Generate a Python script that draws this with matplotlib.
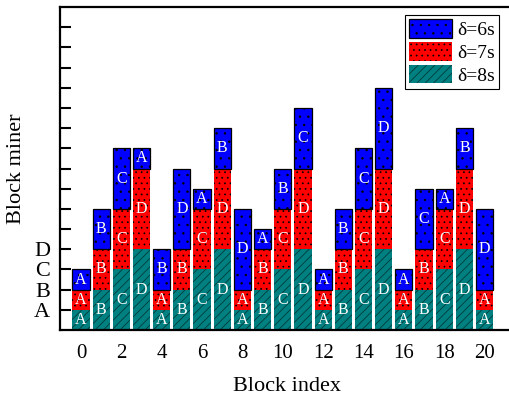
import matplotlib.pyplot as plt
import numpy as np

plt.rcParams['font.family'] = ['Liberation Serif', 'DejaVu Serif']
plt.rcParams['hatch.linewidth'] = 0.5

# block index 0..20, miner of each block for the three delays
blocks = list(range(21))
miner_8s = ['A', 'B', 'C', 'D', 'A', 'B', 'C', 'D', 'A', 'B', 'C',
            'D', 'A', 'B', 'C', 'D', 'A', 'B', 'C', 'D', 'A']
miner_7s = ['A', 'B', 'C', 'D', 'A', 'B', 'C', 'D', 'A', 'B', 'C',
            'D', 'A', 'B', 'C', 'D', 'A', 'B', 'C', 'D', 'A']
miner_6s = ['A', 'B', 'C', 'A', 'B', 'D', 'A', 'B', 'D', 'A', 'B',
            'C', 'A', 'B', 'C', 'D', 'A', 'C', 'A', 'B', 'D']
miner_value = {'A': 1, 'B': 2, 'C': 3, 'D': 4}

ytick_pos = list(range(1, 16))
ytick_labels = ['A', 'B', 'C', 'D'] + [''] * 11

fig = plt.figure(figsize=(5.1, 3.99), dpi=100)
ax = fig.add_axes([0.1176, 0.1729, 0.892, 0.8095])

x = np.array(blocks)
width = 0.85
h8 = np.array([miner_value[m] for m in miner_8s])
h7 = np.array([miner_value[m] for m in miner_7s])
h6 = np.array([miner_value[m] for m in miner_6s])

series = [
    ('δ=8s', h8, np.zeros(len(x)), miner_8s, '#008080', '#003030', '////', 0),
    ('δ=7s', h7, h8, miner_7s, '#ff0000', 'black', '...', 0),
    ('δ=6s', h6, h8 + h7, miner_6s, '#0000ff', 'black', '..', 0.9),
]
handles = {}
for name, h, b, labels, fc, ec, hatch, lw in series:
    bars = ax.bar(x, h, width, bottom=b, color=fc, edgecolor=ec,
                  hatch=hatch, linewidth=lw, label=name, zorder=2)
    handles[name] = bars
    for xi, hi, bi, lab in zip(x, h, b, labels):
        ax.text(xi, bi + hi / 2, lab, ha='center', va='center',
                color='white', fontsize=11.5, zorder=3)

ax.set_xlim(-1.04, 21.5)
ax.set_ylim(0, 16)
ax.set_xticks(range(0, 21, 2))
ax.set_yticks(ytick_pos)
ax.set_yticklabels(ytick_labels)
ax.tick_params(axis='x', length=0, pad=10, labelsize=15)
ax.tick_params(axis='y', direction='in', length=8, width=1.5, pad=7, labelsize=16)
ax.spines['right'].set_visible(False)
for s in ['left', 'bottom', 'top']:
    ax.spines[s].set_linewidth(1.6)

ax.set_xlabel('Block index', fontsize=16, labelpad=10)
ax.set_ylabel('Block miner', fontsize=16, labelpad=6)

leg = ax.legend([handles['δ=6s'], handles['δ=7s'], handles['δ=8s']],
                ['δ=6s', 'δ=7s', 'δ=8s'],
                loc='upper right', bbox_to_anchor=(0.965, 0.975),
                fontsize=14, handlelength=2.2, handleheight=1.1,
                labelspacing=0.15, borderpad=0.2, handletextpad=0.3,
                borderaxespad=0, fancybox=False, framealpha=1,
                edgecolor='black')
leg.get_frame().set_linewidth(0.8)

fig.savefig('out.png', dpi=100)
